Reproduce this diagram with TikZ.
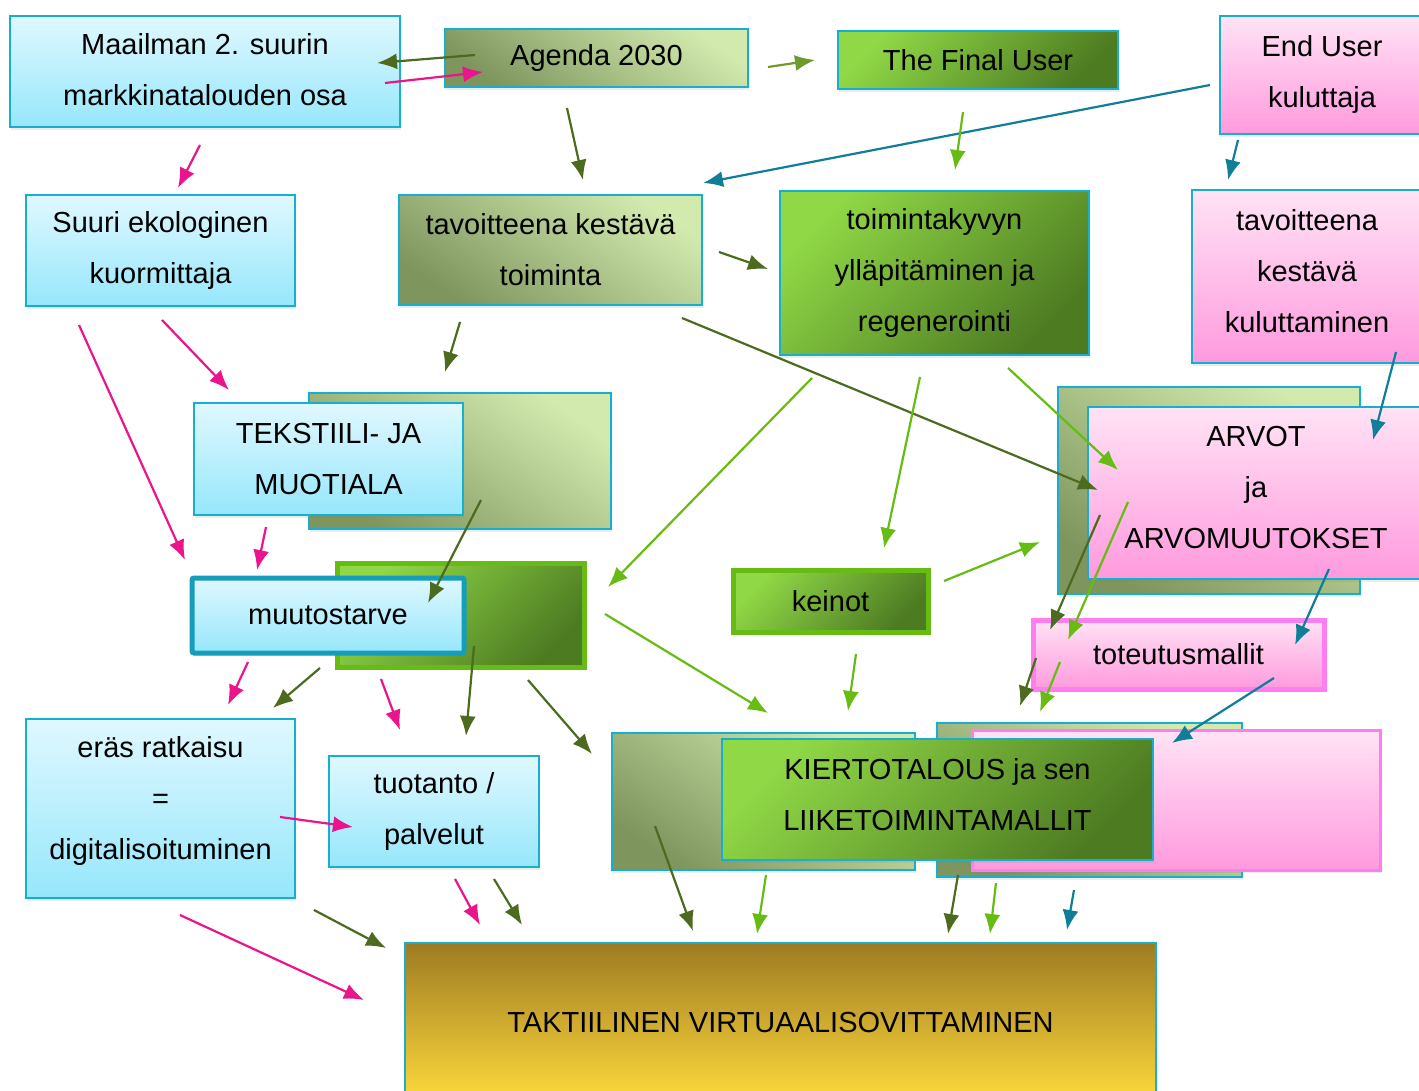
\documentclass[tikz,border=0pt]{standalone}
\usepackage{fontspec}
\setmainfont{Liberation Sans}
\usetikzlibrary{arrows.meta,shadows}

\definecolor{cyanline}{HTML}{17AECF}
\definecolor{cyantop}{HTML}{E0F8FF}
\definecolor{cyanbot}{HTML}{96E7FB}
\definecolor{olivelight}{HTML}{D3EAAF}
\definecolor{olivedark}{HTML}{7E955E}
\definecolor{greenlight}{HTML}{90D846}
\definecolor{greendark}{HTML}{4D7B22}
\definecolor{pinktop}{HTML}{FFE3F5}
\definecolor{pinkbot}{HTML}{FF9ADE}
\definecolor{pinkline}{HTML}{FF7DF1}
\definecolor{goldtop}{HTML}{9E7B22}
\definecolor{goldbot}{HTML}{FFDB3C}
\definecolor{arrpink}{HTML}{EA148C}
\definecolor{arrolive}{HTML}{4C6B1F}
\definecolor{arrgreen}{HTML}{66BC12}
\definecolor{arrteal}{HTML}{0F7E99}
\definecolor{arrmid}{HTML}{6F9A2C}

\begin{document}
\begin{tikzpicture}[x=1pt,y=-1pt]
  \tikzset{
    box/.style={
      draw=cyanline,
      line width=2pt,
      anchor=north west,
      inner sep=0pt,
      outer sep=0pt,
      align=center,
      font=\fontsize{29}{51}\selectfont,
      drop shadow={shadow xshift=1pt, shadow yshift=-3pt, opacity=.15}
    },
    cyanbox/.style={box, top color=cyantop, bottom color=cyanbot},
    olivebox/.style={box, top color=olivelight, bottom color=olivedark, shading angle=-35},
    greenbox/.style={box, top color=greenlight, bottom color=greendark, shading angle=45},
    pinkbox/.style={box, top color=pinktop, bottom color=pinkbot},
    goldbox/.style={box, top color=goldtop, bottom color=goldbot},
    line/.style={line width=2.2pt, -{Latex[length=20pt,width=16pt]}},
    pinkarr/.style={line, draw=arrpink},
    olivearr/.style={line, draw=arrolive},
    greenarr/.style={line, draw=arrgreen},
    tealarr/.style={line, draw=arrteal},
    midarr/.style={line, draw=arrmid}
  }
  \useasboundingbox (0,0) rectangle (1419,1091);

  % top row
  \node[cyanbox, text depth=4pt, minimum width=390pt, minimum height=111pt] (maailma) at (10,16) {Maailman 2. suurin\\markkinatalouden osa};
  \node[olivebox, minimum width=303pt, minimum height=58pt] (agenda) at (445,29) {Agenda 2030};
  \node[greenbox, minimum width=280pt, minimum height=58pt] (finaluser) at (838,31) {The Final User};
  \node[pinkbox, minimum width=204pt, minimum height=118pt] (enduser) at (1220,16) {End User\\kuluttaja};

  % second row
  \node[cyanbox, minimum width=269pt, minimum height=111pt] (suuri) at (26,195) {Suuri ekologinen\\kuormittaja};
  \node[olivebox, minimum width=303pt, minimum height=110pt] (tavoite) at (399,195) {tavoitteena kestävä\\toiminta};
  \node[greenbox, minimum width=309pt, minimum height=164pt] (toiminta) at (780,191) {toimintakyvyn\\ylläpitäminen ja\\regenerointi};
  \node[pinkbox, text depth=12pt, minimum width=230pt, minimum height=173pt] (kulutus) at (1192,190) {tavoitteena\\kestävä\\kuluttaminen};

  % middle
  \node[olivebox, minimum width=302pt, minimum height=136pt] (tekback) at (309,393) {};
  \node[cyanbox, minimum width=269pt, minimum height=112pt] (tekstiili) at (194,403) {TEKSTIILI- JA\\MUOTIALA};
  \node[greenbox, draw=arrgreen, line width=5pt, minimum width=247pt, minimum height=104pt] (muutback) at (337,563) {};
  \node[cyanbox, draw=cyanline!90!black, line width=5pt, rounded corners=2pt, minimum width=272pt, minimum height=75pt] (muutostarve) at (192,578) {muutostarve};
  \node[olivebox, minimum width=302pt, minimum height=207pt] (arvoback) at (1058,387) {};
  \node[pinkbox, text depth=12pt, minimum width=336pt, minimum height=172pt] (arvot) at (1088,407) {ARVOT\\ja\\ARVOMUUTOKSET};
  \node[greenbox, draw=arrgreen, line width=5pt, minimum width=195pt, minimum height=62pt] (keinot) at (733,570) {keinot};
  \node[pinkbox, draw=pinkline, line width=5pt, minimum width=291pt, minimum height=69pt] (toteutus) at (1033,620) {toteutusmallit};

  % lower row
  \node[cyanbox, text depth=22pt, minimum width=269pt, minimum height=179pt] (eras) at (26,719) {eräs ratkaisu\\=\\digitalisoituminen};
  \node[cyanbox, minimum width=210pt, minimum height=111pt] (tuotanto) at (329,756) {tuotanto /\\palvelut};
  \node[olivebox, minimum width=303pt, minimum height=137pt] (kiertoback) at (612,733) {};
  \node[olivebox, minimum width=305pt, minimum height=154pt] (kiertoback2) at (937,723) {};
  \node[pinkbox, draw=pinkline, line width=3pt, minimum width=408pt, minimum height=140pt] (kiertopink) at (972,730) {};
  \node[greenbox, text depth=10pt, minimum width=431pt, minimum height=121pt] (kierto) at (722,739) {KIERTOTALOUS ja sen\\LIIKETOIMINTAMALLIT};
  \node[goldbox, minimum width=751pt, minimum height=160pt] (taktiili) at (405,943) {TAKTIILINEN VIRTUAALISOVITTAMINEN};

  % connectors
  \draw[olivearr] ([shift={(30,26)}]agenda.north west) -- ([shift={(367,47)}]maailma.north west);
  \draw[pinkarr] ([shift={(375,67)}]maailma.north west) -- ([shift={(38,43)}]agenda.north west);
  \draw[midarr] ([shift={(323,38)}]agenda.north west) -- ([shift={(-23,29)}]finaluser.north west);
  \draw[olivearr] ([shift={(122,79)}]agenda.north west) -- ([shift={(184,-15)}]tavoite.north west);
  \draw[tealarr] ([shift={(-10,69)}]enduser.north west) -- ([shift={(304,-12)}]tavoite.north west);
  \draw[greenarr] ([shift={(125,81)}]finaluser.north west) -- ([shift={(175,-21)}]toiminta.north west);
  \draw[tealarr] ([shift={(18,124)}]enduser.north west) -- ([shift={(36,-10)}]kulutus.north west);
  \draw[pinkarr] ([shift={(190,129)}]maailma.north west) -- ([shift={(152,-7)}]suuri.north west);
  \draw[olivearr] ([shift={(320,57)}]tavoite.north west) -- ([shift={(-12,78)}]toiminta.north west);
  \draw[olivearr] ([shift={(61,127)}]tavoite.north west) -- ([shift={(136,-21)}]tekback.north west);
  \draw[pinkarr] ([shift={(136,125)}]suuri.north west) -- ([shift={(35,-13)}]tekstiili.north west);
  \draw[pinkarr] ([shift={(53,130)}]suuri.north west) -- ([shift={(-7,-18)}]muutostarve.north west);
  \draw[olivearr] ([shift={(283,123)}]tavoite.north west) -- ([shift={(10,83)}]arvot.north west);
  \draw[greenarr] ([shift={(228,177)}]toiminta.north west) -- ([shift={(30,63)}]arvot.north west);
  \draw[greenarr] ([shift={(32,187)}]toiminta.north west) -- ([shift={(271,24)}]muutback.north west);
  \draw[greenarr] ([shift={(140,186)}]toiminta.north west) -- ([shift={(151,-22)}]keinot.north west);
  \draw[tealarr] ([shift={(204,162)}]kulutus.north west) -- ([shift={(285,33)}]arvot.north west);
  \draw[olivearr] ([shift={(172,107)}]tekback.north west) -- ([shift={(236,25)}]muutostarve.north west);
  \draw[pinkarr] ([shift={(72,124)}]tekstiili.north west) -- ([shift={(65,-8)}]muutostarve.north west);
  \draw[greenarr] ([shift={(211,11)}]keinot.north west) -- ([shift={(-18,155)}]arvoback.north west);
  \draw[olivearr] ([shift={(12,108)}]arvot.north west) -- ([shift={(17,10)}]toteutus.north west);
  \draw[greenarr] ([shift={(40,95)}]arvot.north west) -- ([shift={(35,20)}]toteutus.north west);
  \draw[tealarr] ([shift={(241,162)}]arvot.north west) -- ([shift={(262,25)}]toteutus.north west);
  \draw[pinkarr] ([shift={(56,84)}]muutostarve.north west) -- ([shift={(202,-14)}]eras.north west);
  \draw[olivearr] ([shift={(128,90)}]muutostarve.north west) -- ([shift={(247,-11)}]eras.north west);
  \draw[pinkarr] ([shift={(189,101)}]muutostarve.north west) -- ([shift={(71,-26)}]tuotanto.north west);
  \draw[olivearr] ([shift={(137,83)}]muutback.north west) -- ([shift={(137,-20)}]tuotanto.north west);
  \draw[olivearr] ([shift={(191,117)}]muutback.north west) -- ([shift={(-20,21)}]kiertoback.north west);
  \draw[greenarr] ([shift={(268,51)}]muutback.north west) -- ([shift={(46,-26)}]kierto.north west);
  \draw[greenarr] ([shift={(123,84)}]keinot.north west) -- ([shift={(126,-28)}]kierto.north west);
  \draw[olivearr] ([shift={(3,38)}]toteutus.north west) -- ([shift={(83,-17)}]kiertoback2.north west);
  \draw[greenarr] ([shift={(27,42)}]toteutus.north west) -- ([shift={(103,-11)}]kiertoback2.north west);
  \draw[tealarr] ([shift={(241,58)}]toteutus.north west) -- ([shift={(200,13)}]kiertopink.north west);
  \draw[pinkarr] ([shift={(254,98)}]eras.north west) -- ([shift={(24,71)}]tuotanto.north west);
  \draw[pinkarr] ([shift={(154,196)}]eras.north west) -- ([shift={(-41,57)}]taktiili.north west);
  \draw[olivearr] ([shift={(288,191)}]eras.north west) -- ([shift={(-19,5)}]taktiili.north west);
  \draw[pinkarr] ([shift={(126,123)}]tuotanto.north west) -- ([shift={(75,-18)}]taktiili.north west);
  \draw[olivearr] ([shift={(165,123)}]tuotanto.north west) -- ([shift={(117,-18)}]taktiili.north west);
  \draw[olivearr] ([shift={(43,93)}]kiertoback.north west) -- ([shift={(288,-12)}]taktiili.north west);
  \draw[greenarr] ([shift={(44,136)}]kierto.north west) -- ([shift={(352,-9)}]taktiili.north west);
  \draw[olivearr] ([shift={(21,152)}]kiertoback2.north west) -- ([shift={(543,-9)}]taktiili.north west);
  \draw[greenarr] ([shift={(59,160)}]kiertoback2.north west) -- ([shift={(585,-9)}]taktiili.north west);
  \draw[tealarr] ([shift={(102,160)}]kiertopink.north west) -- ([shift={(662,-13)}]taktiili.north west);
\end{tikzpicture}
\end{document}
